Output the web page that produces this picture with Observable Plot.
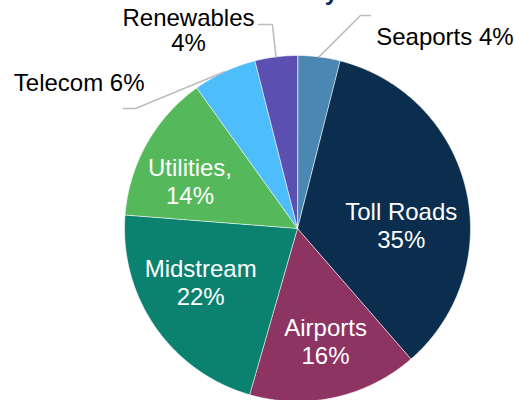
<!DOCTYPE html>
<html>
<head>
<meta charset="utf-8">
<script src="https://cdn.jsdelivr.net/npm/d3@7"></script>
<script src="https://cdn.jsdelivr.net/npm/@observablehq/plot@0.6"></script>
<style>
  html, body { margin: 0; padding: 0; background: #fff; }
  #chart { position: relative; width: 514px; height: 400px; overflow: hidden; }
</style>
</head>
<body>
<div id="chart"></div>
<script>
// ---- data ----
const sectors = ["Seaports", "Toll Roads", "Airports", "Midstream", "Utilities", "Telecom", "Renewables"];
const shares = [4, 35, 16, 22, 14, 6, 4];
const colors = ["#4a87b3", "#0b2e4e", "#8e3463", "#0b8170", "#55b85b", "#4dbdfb", "#5b50b1"];
const labelTexts = ["Seaports 4%", "Toll Roads\n35%", "Airports\n16%", "Midstream\n22%", "Utilities,\n14%", "Telecom 6%", "Renewables\n4%"];

// ---- layout (in units of pie radius; separate from data) ----
const R = 173, cx = 297, cy = 228;
// inside labels: polar angle (deg, clockwise from top) and radius fraction
const insideLabels = {
  "Toll Roads": {angle: 88, r: 0.60},
  "Airports": {angle: 166, r: 0.67},
  "Midstream": {angle: 241, r: 0.64},
  "Utilities": {angle: 294, r: 0.68}
};
// outside labels: elbow/end of leader and label anchor
const outsideLabels = {
  "Seaports": {elbow: [0.364, 1.231], end: [0.422, 1.231], label: [0.455, 1.104], anchor: "start"},
  "Renewables": {elbow: [-0.145, 1.179], end: [-0.225, 1.179], label: [-0.63, 1.145], anchor: "middle"},
  "Telecom": {elbow: [-0.936, 0.694], end: [-1.006, 0.694], label: [-0.884, 0.838], anchor: "end"}
};

const arcs = d3.pie().sort(null).value(d => d)(shares);

// slice polygons
const slicePts = [];
arcs.forEach((a, i) => {
  const name = sectors[i];
  slicePts.push({name, x: 0, y: 0});
  const n = Math.max(2, Math.ceil((a.endAngle - a.startAngle) / (Math.PI / 360)));
  for (let k = 0; k <= n; k++) {
    const t = a.startAngle + (a.endAngle - a.startAngle) * k / n;
    slicePts.push({name, x: Math.sin(t), y: Math.cos(t)});
  }
});

// leaders and labels
const leaderPts = [];
const outText = [];
const inText = [];
arcs.forEach((a, i) => {
  const name = sectors[i];
  const mid = (a.startAngle + a.endAngle) / 2;
  if (outsideLabels[name]) {
    const o = outsideLabels[name];
    leaderPts.push({name, x: Math.sin(mid), y: Math.cos(mid)});
    leaderPts.push({name, x: o.elbow[0], y: o.elbow[1]});
    leaderPts.push({name, x: o.end[0], y: o.end[1]});
    outText.push({name, text: labelTexts[i], x: o.label[0], y: o.label[1], anchor: o.anchor});
  } else {
    const p = insideLabels[name];
    const t = p.angle * Math.PI / 180;
    inText.push({name, text: labelTexts[i], x: p.r * Math.sin(t), y: p.r * Math.cos(t)});
  }
});

const font = "'Liberation Sans', Arial, Helvetica, sans-serif";
const fs = 24;

const chart = Plot.plot({
  width: 514,
  height: 400,
  margin: 0,
  x: {domain: [-1, 1], range: [cx - R, cx + R], axis: null},
  y: {domain: [-1, 1], range: [cy + R, cy - R], axis: null},
  color: {domain: sectors, range: colors},
  style: {fontFamily: font, background: "#fff", overflow: "hidden"},
  marks: [
    Plot.line(slicePts, {x: "x", y: "y", z: "name", fill: "name", stroke: "white", strokeWidth: 0.6, curve: "linear-closed"}),
    Plot.line(leaderPts, {x: "x", y: "y", z: "name", stroke: "#bdbdbd", strokeWidth: 1.6}),
    Plot.text(inText, {x: "x", y: "y", text: "text", fill: "white", fontSize: fs, lineHeight: 1.18, lineAnchor: "middle", textAnchor: "middle"}),
    Plot.text(outText.filter(d => d.anchor === "start"), {x: "x", y: "y", text: "text", fill: "#000", fontSize: fs, lineAnchor: "middle", textAnchor: "start"}),
    Plot.text(outText.filter(d => d.anchor === "middle"), {x: "x", y: "y", text: "text", fill: "#000", fontSize: fs, lineHeight: 1.05, lineAnchor: "middle", textAnchor: "middle"}),
    Plot.text(outText.filter(d => d.anchor === "end"), {x: "x", y: "y", text: "text", fill: "#000", fontSize: fs, lineAnchor: "middle", textAnchor: "end"}),
    // clipped title fragment at the very top (the reference shows only this descender)
    Plot.text(["y"], {frameAnchor: "top-left", dx: 331, dy: -1, text: d => d, lineAnchor: "bottom", textAnchor: "middle", fill: "#0c2d5a", fontSize: 24, fontWeight: "bold"})
  ]
});
document.getElementById("chart").appendChild(chart);
</script>
</body>
</html>
